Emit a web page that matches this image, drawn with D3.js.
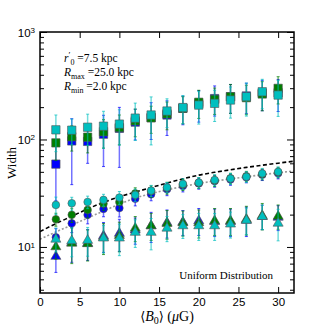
<!DOCTYPE html>
<html><head><meta charset="utf-8">
<script src="https://cdn.jsdelivr.net/npm/d3@7"></script>
<style>body{margin:0;background:#fff}</style>
</head><body>
<svg id="c" width="327" height="327"></svg>
<script>
const xs = [2,4,6,8,10,12,14,16,18,20,22,24,26,28,30];

const sqBlue    = [59,97,96,112,127,145,160,169,195,215,240,250,254,270,272];
const sqBlueErr = [32,59,36,56,72,46,60,60,58,70,75,75,80,85,90];
const sqGreen    = [93,106,105,118,129,149,159,173,195,222,236,250,245,265,299];
const sqGreenErr = [29,28,30,35,40,43,45,50,55,65,65,75,75,80,85];
const sqCyan    = [123,122,130,133,139,158,169,184,198,209,217,233,250,278,259];
const sqCyanErr = [46,33,42,50,50,60,80,55,58,70,70,75,85,85,95];

const ciBlue    = [12.3,16.6,19.9,22.6,23.0,28.1,30.9,34.5,37.0,39.0,41.0,42.5,44.5,47.0,48.5];
const ciBlueErr = [2.5,3,3.5,3.5,4,4,4,4.5,4.5,4.5,5,5,5,5.5,5.5];
const ciGreen    = [18.1,19.9,22.1,25.3,26.2,31.5,33.0,35.5,38.0,39.5,41.5,43.5,45.5,47.5,49.5];
const ciGreenErr = [2.5,3,3.5,3.5,4,4,4,4.5,4.5,4.5,5,5,5,5.5,5.5];
const ciCyan    = [24.6,25.5,26.2,27.4,28.8,30.5,33.4,35.8,38.6,39.7,42.0,43.3,45.0,48.3,50.0];
const ciCyanErr = [4.5,3.5,3.5,3.5,4,4,4,4,4.5,4.5,5,5,5,5.5,5.5];

const trBlue    = [8.3,11.2,11.0,12.9,13.6,14.6,16.0,17.1,17.3,17.8,17.5,17.5,18.0,19.5,19.2];
const trBlueErr = [2.5,4,3.5,4,4.5,4,5,5,4.5,5,5,5,5.5,5,5];
const trGreen    = [10.2,11.0,10.9,12.5,13.0,15.2,16.0,16.8,17.1,17.1,17.8,17.8,18.4,19.9,19.6];
const trGreenErr = [2.5,4,3.5,4,4,4,4.5,5,4.5,5,5,5,5.5,5.5,5];
const trCyan    = [12.0,11.6,11.7,12.3,12.3,13.9,13.9,15.2,16.0,16.0,16.0,16.6,18.0,19.5,16.9];
const trCyanErr = [3,3.5,3.5,3.5,4,4,4.5,4,4,4.5,4.5,4.5,5,5,5.5];

const modelX      = [0,2,4,6,8,10,12,14,16,18,20,22,24,26,28,30,32];
const modelDashed = [13.9,16.5,19.3,22.6,26.0,29.3,32.4,35.7,39.3,43.0,46.6,49.5,52.3,55.0,57.6,60.2,62.8];
const modelDotted = [11.8,13.8,16.0,18.6,21.6,25.0,28.5,31.3,34.0,36.5,39.0,41.0,43.0,45.0,47.0,49.0,51.0];

const xTicks = [0,5,10,15,20,25,30];
const yMajor = [10,100,1000];
const yMinor = [4,5,6,7,8,9,20,30,40,50,60,70,80,90,200,300,400,500,600,700,800,900];

const BLUE="#0000ff", GREEN="#007f00", CYAN="#00bfbf";

const svg = d3.select("#c");
const L=40, R=294, T=32, B=293;
const x = d3.scaleLinear([0,32],[L,R]);
const y = d3.scaleLog([3.73,1000],[B,T]);

svg.append("defs").append("clipPath").attr("id","clip")
  .append("rect").attr("x",L).attr("y",T).attr("width",R-L).attr("height",B-T);
const g = svg.append("g").attr("clip-path","url(#clip)");

// model lines
const line = d3.line().x((d,i)=>x(modelX[i])).y(d=>y(d)).curve(d3.curveMonotoneX);
g.append("path").attr("d",line(modelDotted)).attr("fill","none")
  .attr("stroke","#999").attr("stroke-width",1.6).attr("stroke-dasharray","2,2");
g.append("path").attr("d",line(modelDashed)).attr("fill","none")
  .attr("stroke","#000").attr("stroke-width",1.6).attr("stroke-dasharray","4,2.5");

const series = [
  {c:BLUE, s:d3.symbolSquare, size:70, v:sqBlue, e:sqBlueErr},
  {c:BLUE, s:d3.symbolCircle, size:46, v:ciBlue, e:ciBlueErr},
  {c:BLUE, s:d3.symbolTriangle, size:44, v:trBlue, e:trBlueErr},
  {c:GREEN, s:d3.symbolSquare, size:70, v:sqGreen, e:sqGreenErr},
  {c:GREEN, s:d3.symbolCircle, size:46, v:ciGreen, e:ciGreenErr},
  {c:GREEN, s:d3.symbolTriangle, size:44, v:trGreen, e:trGreenErr},
  {c:CYAN, s:d3.symbolSquare, size:70, v:sqCyan, e:sqCyanErr},
  {c:CYAN, s:d3.symbolCircle, size:46, v:ciCyan, e:ciCyanErr},
  {c:CYAN, s:d3.symbolTriangle, size:44, v:trCyan, e:trCyanErr},
];

series.forEach(sr=>{
  const sg = g.append("g");
  xs.forEach((xv,i)=>{
    const v=sr.v[i], e=sr.e[i];
    const y1=y(v+e), y0=y(Math.max(v-e,1));
    sg.append("line").attr("x1",x(xv)).attr("x2",x(xv)).attr("y1",y1).attr("y2",y0)
      .attr("stroke",sr.c).attr("stroke-width",1.5).attr("stroke-opacity",0.55);
    [y1,y0].forEach(yy=>sg.append("line").attr("x1",x(xv)-1.5).attr("x2",x(xv)+1.5)
      .attr("y1",yy).attr("y2",yy).attr("stroke",sr.c).attr("stroke-width",1).attr("stroke-opacity",0.7));
  });
  sg.selectAll("path.m").data(xs).join("path").attr("class","m")
    .attr("d",d3.symbol(sr.s,sr.size))
    .attr("transform",(d,i)=>`translate(${x(d)},${y(sr.v[i])+(sr.s===d3.symbolTriangle?0.8:0)})`)
    .attr("fill",sr.c).attr("stroke","#555").attr("stroke-opacity",0.6).attr("stroke-width",1);
});

// axes
const sans = "'Liberation Sans', Arial, sans-serif";
const serif = "'Liberation Serif', 'DejaVu Serif', serif";
function style(sel){ sel.select(".domain").remove(); sel.selectAll(".tick line").attr("stroke","#000").attr("stroke-width",1);
  sel.selectAll("text").attr("font-family",sans).attr("font-size",11.5).attr("fill","#000"); }

svg.append("g").attr("transform",`translate(0,${B})`)
  .call(d3.axisBottom(x).tickValues(xTicks).tickSize(-6).tickPadding(5).tickFormat(d3.format("d"))).call(style);
svg.append("g").attr("transform",`translate(0,${T})`)
  .call(d3.axisTop(x).tickValues(xTicks).tickSize(-6).tickFormat("")).call(style);

const yl = svg.append("g").attr("transform",`translate(${L},0)`)
  .call(d3.axisLeft(y).tickValues(yMajor).tickSize(-7).tickPadding(5).tickFormat(""));
style(yl);
yl.selectAll(".tick text").each(function(d){
  const t=d3.select(this); t.text(null).attr("dy","0.35em");
  t.append("tspan").text("10");
  t.append("tspan").attr("dy","-0.45em").attr("font-size",8).text(Math.round(Math.log10(d)));
});
svg.append("g").attr("transform",`translate(${L},0)`)
  .call(d3.axisLeft(y).tickValues(yMinor).tickSize(-4).tickFormat("")).call(style);
svg.append("g").attr("transform",`translate(${R},0)`)
  .call(d3.axisRight(y).tickValues(yMajor).tickSize(-7).tickFormat("")).call(style);
svg.append("g").attr("transform",`translate(${R},0)`)
  .call(d3.axisRight(y).tickValues(yMinor).tickSize(-4).tickFormat("")).call(style);

svg.append("rect").attr("x",L).attr("y",T).attr("width",R-L).attr("height",B-T)
  .attr("fill","none").attr("stroke","#000").attr("stroke-width",1.5);

// labels
const xl = svg.append("text").attr("x",167).attr("y",321).attr("text-anchor","middle")
  .attr("font-family",serif).attr("font-size",14);
xl.append("tspan").attr("font-family","'DejaVu Sans', sans-serif").attr("font-size",13).text("⟨");
xl.append("tspan").attr("font-style","italic").text("B");
xl.append("tspan").attr("dy",3).attr("font-size",10).text("0");
xl.append("tspan").attr("dy",-3).attr("font-family","'DejaVu Sans', sans-serif").attr("font-size",13).text("⟩");
xl.append("tspan").text(" (");
xl.append("tspan").attr("font-style","italic").text("μ");
xl.append("tspan").text("G)");

svg.append("text").attr("transform","translate(16,163) rotate(-90)").attr("text-anchor","middle")
  .attr("font-family",serif).attr("font-size",13).text("Width");

function ann(yy, parts){
  const t = svg.append("text").attr("x",64).attr("y",yy).attr("font-family",serif).attr("font-size",11.5);
  parts.forEach(p=>{ const s=t.append("tspan").text(p.t);
    if(p.i) s.attr("font-style","italic"); if(p.dy) s.attr("dy",p.dy); if(p.fs) s.attr("font-size",p.fs); });
}
ann(62,[{t:"r",i:1},{t:"′",dy:-4,fs:9},{t:"0",dy:7,fs:8},{t:" =7.5 kpc",dy:-3}]);
ann(76,[{t:"R",i:1},{t:"max",dy:3,fs:8},{t:" =25.0 kpc",dy:-3}]);
ann(90,[{t:"R",i:1},{t:"min",dy:3,fs:8},{t:" =2.0 kpc",dy:-3}]);

svg.append("text").attr("x",273).attr("y",279).attr("text-anchor","end")
  .attr("font-family",serif).attr("font-size",11).text("Uniform Distribution");
</script>
</body></html>
